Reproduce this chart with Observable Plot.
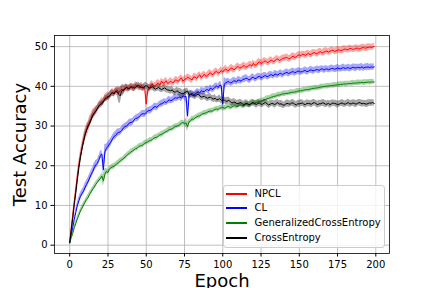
<!DOCTYPE html>
<html>
<head>
<meta charset="utf-8">
<script src="https://cdn.jsdelivr.net/npm/d3@7"></script>
<script src="https://cdn.jsdelivr.net/npm/@observablehq/plot@0.6"></script>
<style>
  html, body { margin: 0; padding: 0; background: #fff; }
  #wrap { position: relative; width: 432px; height: 288px; overflow: hidden; font-family: "DejaVu Sans", sans-serif; }
  #legend { position: absolute; left: 222.5px; top: 184.5px; width: 160px; height: 61px;
            border: 1px solid #cccccc; border-radius: 3px; background: rgba(255,255,255,0.8); }
  .row { position: absolute; left: 0; height: 14px; font-size: 10px; line-height: 14px; color: #000; white-space: nowrap; }
  .sw { position: absolute; left: 2px; top: 6px; width: 21px; height: 2px; }
  .lab { position: absolute; left: 31px; top: 0; }
</style>
</head>
<body>
<div id="wrap"><div id="chart"></div><div id="legend"></div></div>
<script>
// one value per epoch, 0..199
const epochs = d3.range(0, 200);

const seriesNames = ["NPCL", "CL", "GeneralizedCrossEntropy", "CrossEntropy"];
const seriesColors = ["#ff0000", "#0000ff", "#008000", "#000000"];

const npcl = [
  0.6, 4.2, 7.4, 10.8, 13.9, 17.2, 20.1, 22.5, 24.3, 26.4,
  27.6, 28.9, 29.6, 31.0, 31.8, 32.9, 33.3, 33.9, 34.2, 35.1,
  35.5, 36.2, 36.1, 37.0, 37.3, 37.5, 37.4, 38.2, 38.6, 38.2,
  38.9, 39.1, 38.4, 38.9, 39.3, 38.8, 39.5, 39.8, 39.2, 39.7,
  40.0, 39.5, 39.7, 40.3, 40.1, 39.6, 39.9, 40.2, 39.5, 39.8,
  35.5, 39.1, 39.4, 40.2, 40.5, 39.9, 40.2, 40.7, 40.8, 40.3,
  41.3, 40.8, 40.9, 41.4, 40.7, 41.0, 41.3, 40.9, 41.0, 41.6,
  41.5, 41.2, 41.8, 42.1, 41.3, 41.7, 41.9, 42.3, 42.1, 41.8,
  41.6, 42.4, 42.3, 42.0, 42.6, 42.9, 42.2, 42.7, 43.0, 42.5,
  42.7, 43.2, 43.4, 42.9, 43.1, 43.6, 43.8, 43.3, 43.5, 44.0,
  43.6, 44.1, 44.4, 43.9, 44.0, 44.5, 44.6, 44.2, 44.3, 44.8,
  45.0, 44.6, 44.7, 45.1, 45.2, 44.8, 44.9, 45.3, 45.4, 45.1,
  45.8, 45.3, 45.4, 45.9, 46.2, 45.8, 45.9, 46.3, 46.4, 46.0,
  46.1, 46.5, 46.6, 46.2, 46.4, 46.8, 46.9, 46.5, 46.7, 47.0,
  47.1, 47.2, 47.3, 46.9, 47.0, 47.4, 47.6, 47.3, 47.4, 47.8,
  47.9, 47.7, 48.1, 48.0, 47.8, 48.1, 48.3, 48.0, 48.1, 48.4,
  48.5, 48.2, 48.3, 48.6, 48.7, 48.4, 48.6, 48.8, 48.9, 48.6,
  48.8, 49.0, 49.1, 48.8, 48.9, 49.1, 49.2, 49.0, 49.1, 49.3,
  49.4, 49.2, 49.3, 49.5, 49.5, 49.3, 49.4, 49.6, 49.6, 49.4,
  49.5, 49.7, 49.8, 49.6, 49.7, 49.8, 49.9, 49.8, 49.9, 50.0
];
const cl = [
  0.6, 2.6, 4.5, 6.5, 8.3, 10.0, 11.2, 12.3, 13.0, 13.6,
  14.5, 15.3, 16.0, 16.9, 17.8, 18.5, 19.5, 20.2, 20.6, 21.4,
  22.5, 23.0, 19.0, 23.6, 24.4, 24.9, 25.5, 26.0, 26.8, 27.4,
  27.6, 28.2, 28.4, 28.5, 28.9, 29.5, 29.8, 30.0, 30.3, 30.8,
  30.9, 31.0, 31.5, 31.9, 32.0, 32.2, 32.6, 33.0, 33.1, 33.0,
  33.4, 33.8, 33.9, 34.0, 34.3, 34.8, 34.9, 34.7, 35.1, 35.5,
  35.6, 35.8, 36.1, 35.9, 36.3, 36.6, 36.4, 36.5, 36.9, 37.1,
  37.0, 37.2, 37.3, 37.0, 37.6, 37.4, 37.5, 32.5, 37.8, 38.0,
  38.2, 37.9, 38.0, 38.4, 38.6, 38.3, 38.9, 38.7, 38.7, 39.1,
  39.2, 38.9, 39.6, 39.2, 39.4, 39.8, 40.1, 39.7, 40.3, 40.2,
  35.5, 40.6, 40.9, 41.1, 41.2, 40.8, 41.0, 41.3, 41.4, 41.1,
  41.6, 41.5, 41.3, 41.7, 41.8, 42.0, 42.0, 41.6, 41.7, 42.2,
  42.3, 41.9, 42.1, 42.4, 42.5, 42.2, 42.3, 42.6, 42.7, 42.4,
  42.6, 42.9, 42.9, 42.6, 43.1, 43.0, 42.8, 43.2, 43.3, 42.9,
  43.2, 43.4, 43.5, 43.2, 43.4, 43.6, 43.7, 43.4, 43.6, 43.8,
  43.8, 43.6, 43.7, 43.9, 44.0, 43.7, 43.8, 44.1, 44.1, 43.9,
  44.0, 44.2, 44.2, 44.0, 44.3, 44.4, 44.1, 44.3, 44.4, 44.2,
  44.3, 44.5, 44.5, 44.3, 44.4, 44.6, 44.5, 44.4, 44.6, 44.7,
  44.5, 44.6, 44.7, 44.5, 44.6, 44.8, 44.7, 44.6, 44.8, 44.7,
  44.7, 44.9, 44.6, 44.8, 44.8, 44.9, 44.7, 44.9, 44.8, 44.9
];
const gce = [
  0.6, 1.9, 3.0, 4.4, 5.5, 6.6, 7.6, 8.6, 9.3, 10.1,
  10.8, 11.5, 12.0, 12.8, 13.4, 14.1, 14.6, 15.3, 15.8, 16.4,
  16.7, 17.4, 16.2, 17.9, 18.6, 18.3, 19.2, 19.5, 19.7, 19.9,
  20.2, 20.6, 20.8, 21.2, 21.5, 21.7, 22.2, 22.4, 22.9, 23.1,
  23.5, 23.7, 24.0, 24.3, 24.4, 24.8, 25.0, 25.1, 25.3, 25.7,
  25.8, 26.0, 26.3, 26.4, 26.6, 27.0, 27.1, 27.2, 27.5, 27.8,
  27.9, 28.1, 28.4, 28.6, 28.8, 29.1, 29.2, 29.3, 29.6, 29.9,
  30.0, 30.1, 30.4, 30.7, 30.9, 30.6, 30.8, 29.8, 31.1, 31.3,
  31.8, 31.7, 32.1, 32.3, 32.5, 32.6, 32.9, 33.1, 33.2, 33.3,
  33.5, 33.7, 33.8, 33.7, 34.0, 34.2, 34.3, 34.2, 34.5, 34.6,
  34.7, 34.5, 34.6, 34.9, 34.9, 34.7, 34.8, 35.1, 35.1, 34.9,
  35.0, 35.3, 35.3, 35.1, 35.2, 35.5, 35.5, 35.3, 35.4, 35.7,
  35.8, 35.8, 35.9, 36.1, 36.1, 36.3, 36.4, 36.6, 36.7, 36.9,
  37.0, 37.1, 37.3, 37.4, 37.5, 37.6, 37.8, 37.8, 37.9, 38.1,
  38.1, 38.2, 38.2, 38.3, 38.4, 38.5, 38.5, 38.6, 38.6, 38.8,
  38.8, 38.9, 38.9, 39.1, 39.1, 39.2, 39.2, 39.3, 39.4, 39.5,
  39.5, 39.6, 39.6, 39.7, 39.8, 39.9, 39.9, 40.0, 40.0, 40.1,
  40.1, 40.2, 40.2, 40.3, 40.3, 40.4, 40.4, 40.5, 40.5, 40.6,
  40.6, 40.6, 40.7, 40.7, 40.7, 40.8, 40.8, 40.8, 40.9, 40.9,
  40.9, 41.0, 40.9, 41.0, 41.0, 41.1, 41.0, 41.1, 41.1, 41.1
];
const ce = [
  0.6, 3.9, 6.8, 10.2, 13.2, 16.5, 19.5, 22.0, 24.2, 26.0,
  27.8, 29.0, 30.1, 30.7, 31.6, 32.6, 33.2, 33.7, 34.4, 35.0,
  35.4, 35.6, 36.1, 36.8, 37.0, 37.2, 37.7, 38.1, 38.3, 38.1,
  38.7, 38.6, 38.0, 37.6, 38.9, 39.1, 39.3, 39.7, 39.6, 39.4,
  39.8, 39.9, 39.5, 39.7, 40.1, 40.3, 39.8, 39.7, 39.6, 40.0,
  40.2, 39.8, 39.5, 39.7, 39.9, 39.6, 39.3, 39.5, 39.7, 39.4,
  39.2, 39.4, 39.6, 39.3, 39.1, 39.0, 38.9, 39.1, 38.6, 38.5,
  38.9, 38.6, 38.4, 38.2, 38.1, 38.4, 38.6, 38.8, 37.9, 38.0,
  37.8, 37.7, 37.5, 37.9, 38.0, 37.6, 37.3, 37.4, 37.5, 37.2,
  37.0, 37.2, 37.3, 36.9, 36.8, 37.0, 36.6, 36.7, 36.9, 36.5,
  36.4, 36.6, 36.2, 36.3, 36.5, 36.1, 35.8, 36.0, 36.0, 35.7,
  35.6, 35.8, 35.9, 35.5, 35.4, 35.7, 35.7, 35.4, 35.5, 35.8,
  35.9, 35.6, 35.4, 35.7, 35.8, 35.5, 35.5, 35.8, 35.9, 35.6,
  35.3, 35.5, 35.7, 35.6, 35.4, 35.7, 35.9, 35.5, 35.6, 35.4,
  35.2, 35.5, 35.7, 35.6, 35.5, 35.8, 35.8, 35.5, 35.3, 35.6,
  35.6, 35.7, 35.8, 35.5, 35.4, 35.7, 35.7, 35.6, 35.5, 35.8,
  35.9, 35.6, 35.4, 35.6, 35.6, 35.8, 35.8, 35.5, 35.5, 35.7,
  35.4, 35.6, 35.8, 35.7, 35.6, 35.4, 35.5, 35.7, 35.8, 35.6,
  35.5, 35.7, 35.9, 35.6, 35.6, 35.8, 35.7, 35.5, 35.7, 35.9,
  35.8, 35.6, 35.7, 35.6, 35.5, 35.7, 35.8, 35.8, 35.9, 35.7
];

// standard deviations, one per pair of epochs (0-1, 2-3, ...)
const npclStd = [
  0.2, 0.8, 1.1, 1.3, 1.5, 1.6, 1.5, 1.3, 1.1, 1.0,
  1.0, 0.9, 1.0, 0.9, 0.9, 0.8, 0.9, 0.8, 0.9, 0.8,
  0.8, 0.9, 0.8, 0.9, 0.8, 1.6, 1.0, 0.9, 0.8, 0.9,
  0.8, 0.9, 0.8, 0.9, 0.8, 0.9, 0.8, 0.9, 0.8, 0.9,
  0.8, 0.9, 0.8, 0.9, 0.8, 0.9, 0.8, 0.9, 0.8, 0.9,
  0.8, 0.9, 0.8, 0.9, 0.8, 0.9, 0.8, 0.9, 0.8, 0.9,
  0.8, 0.9, 0.8, 0.9, 0.8, 0.9, 0.8, 0.9, 0.8, 0.9,
  0.8, 0.9, 0.8, 0.9, 0.8, 0.9, 0.8, 0.9, 0.8, 0.9,
  0.8, 0.9, 0.8, 0.9, 0.8, 0.9, 0.8, 0.9, 0.8, 0.9,
  0.8, 0.9, 0.8, 0.9, 0.8, 0.9, 0.8, 0.9, 0.8, 0.8
];
const clStd = [
  0.2, 0.6, 0.8, 0.9, 0.9, 1.0, 1.0, 1.0, 1.1, 1.0,
  1.0, 1.8, 1.0, 1.0, 0.9, 1.0, 0.9, 0.9, 0.9, 0.9,
  0.9, 0.8, 0.9, 0.8, 0.9, 0.8, 0.9, 0.8, 0.9, 0.8,
  0.9, 0.8, 0.9, 0.8, 0.9, 0.8, 0.9, 0.8, 1.8, 0.9,
  0.8, 0.9, 0.8, 0.9, 0.8, 0.9, 0.8, 0.9, 0.8, 0.9,
  1.8, 0.9, 0.8, 0.9, 0.8, 0.9, 0.8, 0.9, 0.8, 0.9,
  0.8, 0.9, 0.8, 0.9, 0.8, 0.9, 0.8, 0.9, 0.8, 0.9,
  0.8, 0.9, 0.8, 0.9, 0.8, 0.9, 0.8, 0.9, 0.8, 0.9,
  0.8, 0.9, 0.8, 0.9, 0.8, 0.9, 0.8, 0.9, 0.8, 0.9,
  0.8, 0.9, 0.8, 0.9, 0.8, 0.9, 0.8, 0.9, 0.8, 0.8
];
const gceStd = [
  0.2, 0.5, 0.6, 0.6, 0.7, 0.6, 0.7, 0.6, 0.7, 0.6,
  0.7, 1.4, 0.7, 0.6, 0.7, 0.6, 0.7, 0.6, 0.7, 0.6,
  0.7, 0.6, 0.7, 0.6, 0.7, 0.6, 0.7, 0.6, 0.7, 0.6,
  0.7, 0.6, 0.7, 0.6, 0.7, 0.6, 0.7, 0.6, 1.2, 0.6,
  0.7, 0.6, 0.7, 0.6, 0.7, 0.6, 0.7, 0.6, 0.7, 0.6,
  0.7, 0.6, 0.7, 0.6, 0.7, 0.6, 0.7, 0.6, 0.7, 0.6,
  0.7, 0.6, 0.7, 0.6, 0.7, 0.6, 0.7, 0.6, 0.7, 0.6,
  0.7, 0.6, 0.7, 0.6, 0.7, 0.6, 0.7, 0.6, 0.7, 0.6,
  0.7, 0.6, 0.7, 0.6, 0.7, 0.6, 0.7, 0.6, 0.7, 0.6,
  0.7, 0.6, 0.7, 0.6, 0.7, 0.6, 0.7, 0.6, 0.7, 0.6
];
const ceStd = [
  0.2, 0.6, 0.8, 0.8, 0.8, 0.8, 0.8, 0.9, 0.9, 0.8,
  0.8, 0.8, 0.8, 0.9, 0.8, 0.9, 2.0, 1.4, 0.8, 0.8,
  0.8, 0.9, 0.8, 0.8, 0.9, 0.8, 0.8, 0.9, 0.8, 0.8,
  0.8, 0.9, 0.8, 0.9, 0.8, 0.9, 1.1, 0.9, 0.8, 0.9,
  0.8, 0.9, 0.8, 0.9, 0.8, 0.9, 0.8, 0.9, 0.8, 0.9,
  0.8, 0.9, 0.8, 0.9, 0.8, 0.9, 0.8, 0.9, 0.8, 0.9,
  0.8, 0.9, 0.8, 0.9, 0.8, 0.9, 0.8, 0.9, 0.8, 0.9,
  0.8, 0.9, 0.8, 0.9, 0.8, 0.9, 0.8, 0.9, 0.8, 0.9,
  0.8, 0.9, 0.8, 0.9, 0.8, 0.9, 0.8, 0.9, 0.8, 0.9,
  0.8, 0.9, 0.8, 0.9, 0.8, 0.9, 0.8, 0.9, 0.8, 0.8
];

const xTicks = [0, 25, 50, 75, 100, 125, 150, 175, 200];
const yTicks = [0, 10, 20, 30, 40, 50];
const xLabel = "Epoch";
const yLabel = "Test Accuracy";

const means = [npcl, cl, gce, ce];
const stds = [npclStd, clStd, gceStd, ceStd];

const seriesMarks = [];
means.forEach((m, k) => {
  const rows = epochs.map((e, i) => {
    const s = stds[k][Math.floor(i / 2)];
    return {epoch: e, value: m[i], lo: m[i] - s, hi: m[i] + s};
  });
  seriesMarks.push(Plot.areaY(rows, {x: "epoch", y1: "lo", y2: "hi", fill: seriesColors[k], fillOpacity: 0.35}));
  seriesMarks.push(Plot.lineY(rows, {x: "epoch", y: "value", stroke: seriesColors[k], strokeWidth: 1}));
});

const chart = Plot.plot({
  width: 432,
  height: 288,
  marginLeft: 54,
  marginRight: 43,
  marginTop: 35,
  marginBottom: 35,
  style: {fontFamily: "DejaVu Sans", fontSize: "10px", color: "#000", background: "#fff"},
  x: {domain: [-9.95, 208.95]},
  y: {domain: [-2.1, 52.8]},
  marks: [
    Plot.ruleX(xTicks, {stroke: "#b0b0b0", strokeWidth: 0.8}),
    Plot.ruleY(yTicks, {stroke: "#b0b0b0", strokeWidth: 0.8}),
    ...seriesMarks,
    Plot.frame({stroke: "#000", strokeWidth: 0.8}),
    Plot.axisX({ticks: xTicks, tickSize: 3.5, tickPadding: 3.5, fontSize: 10, label: null, tickFormat: d => String(d)}),
    Plot.axisY({ticks: yTicks, tickSize: 3.5, tickPadding: 3.5, fontSize: 10, label: null, tickFormat: d => String(d)}),
    Plot.text([yLabel], {frameAnchor: "left", rotate: -90, dx: -34.4, fontSize: 18, textAnchor: "middle", lineAnchor: "middle", fill: "#000"}),
    Plot.text([xLabel], {frameAnchor: "bottom", dy: 20.6, fontSize: 18, textAnchor: "middle", lineAnchor: "top", fill: "#000"})
  ]
});
document.getElementById("chart").appendChild(chart);

const legend = document.getElementById("legend");
const rowTops = [1, 15.6, 30.3, 45.3];
seriesNames.forEach((name, k) => {
  const row = document.createElement("div");
  row.className = "row";
  row.style.top = rowTops[k] + "px";
  row.innerHTML = `<div class="sw" style="background:${seriesColors[k]}"></div><span class="lab">${name}</span>`;
  legend.appendChild(row);
});
</script>
</body>
</html>
